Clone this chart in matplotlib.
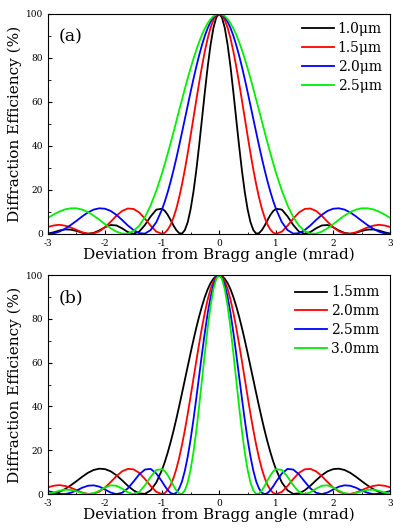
import matplotlib
matplotlib.use("Agg")
import matplotlib.pyplot as plt
from matplotlib.ticker import MultipleLocator

plt.rcParams["font.family"] = ["DejaVu Serif"]
plt.rcParams["axes.unicode_minus"] = False

# ------------------------- data -------------------------
angle = [-3.0, -2.9, -2.8, -2.7, -2.6, -2.5, -2.4, -2.3, -2.2, -2.1,
         -2.0, -1.9, -1.8, -1.7, -1.6, -1.5, -1.4, -1.3, -1.2, -1.1,
         -1.0, -0.95, -0.9, -0.85, -0.8, -0.75, -0.7, -0.65, -0.6, -0.55,
         -0.5, -0.45, -0.4, -0.35, -0.3, -0.25, -0.2, -0.15, -0.1, -0.05,
         0.0,
         0.05, 0.1, 0.15, 0.2, 0.25, 0.3, 0.35, 0.4, 0.45, 0.5,
         0.55, 0.6, 0.65, 0.7, 0.75, 0.8, 0.85, 0.9, 0.95, 1.0,
         1.1, 1.2, 1.3, 1.4, 1.5, 1.6, 1.7, 1.8, 1.9, 2.0,
         2.1, 2.2, 2.3, 2.4, 2.5, 2.6, 2.7, 2.8, 2.9, 3.0]

# panel (a)
eff_a_10 = [0.1, 0.7, 1.5, 2.0, 1.9, 1.3, 0.5, 0.0, 0.4, 1.5,
            3.0, 4.0, 3.8, 2.5, 0.8, 0.0, 1.0, 4.0, 7.9, 11.0,
            11.4, 10.4, 8.6, 6.3, 3.8, 1.7, 0.3, 0.1, 1.7, 5.3,
            11.1, 19.0, 28.8, 40.1, 52.2, 64.4, 75.9, 85.8, 93.5, 98.3,
            100.0,
            98.3, 93.5, 85.8, 75.9, 64.4, 52.2, 40.1, 28.8, 19.0, 11.1,
            5.3, 1.7, 0.1, 0.3, 1.7, 3.8, 6.3, 8.6, 10.4, 11.4,
            11.0, 7.9, 4.0, 1.0, 0.0, 0.8, 2.5, 3.8, 4.0, 3.0,
            1.5, 0.4, 0.0, 0.5, 1.3, 1.9, 2.0, 1.5, 0.7, 0.1]
eff_a_15 = [3.1, 3.8, 4.1, 3.7, 2.9, 1.8, 0.7, 0.1, 0.2, 1.1,
            3.0, 5.5, 8.2, 10.4, 11.5, 11.3, 9.7, 6.9, 3.7, 1.0,
            0.0, 0.5, 1.9, 4.1, 7.3, 11.4, 16.5, 22.5, 29.2, 36.6,
            44.5, 52.6, 60.7, 68.6, 76.1, 82.9, 88.8, 93.6, 97.1, 99.3,
            100.0,
            99.3, 97.1, 93.6, 88.8, 82.9, 76.1, 68.6, 60.7, 52.6, 44.5,
            36.6, 29.2, 22.5, 16.5, 11.4, 7.3, 4.1, 1.9, 0.5, 0.0,
            1.0, 3.7, 6.9, 9.7, 11.3, 11.5, 10.4, 8.2, 5.5, 3.0,
            1.1, 0.2, 0.1, 0.7, 1.8, 2.9, 3.7, 4.1, 3.8, 3.1]
eff_a_20 = [0.0, 0.2, 1.0, 2.3, 4.0, 5.9, 7.9, 9.7, 11.0, 11.6,
            11.4, 10.4, 8.6, 6.3, 3.8, 1.7, 0.3, 0.1, 1.7, 5.3,
            11.1, 14.8, 19.0, 23.7, 28.8, 34.3, 40.1, 46.1, 52.2, 58.3,
            64.4, 70.3, 75.9, 81.1, 85.8, 90.0, 93.5, 96.3, 98.3, 99.6,
            100.0,
            99.6, 98.3, 96.3, 93.5, 90.0, 85.8, 81.1, 75.9, 70.3, 64.4,
            58.3, 52.2, 46.1, 40.1, 34.3, 28.8, 23.7, 19.0, 14.8, 11.1,
            5.3, 1.7, 0.1, 0.3, 1.7, 3.8, 6.3, 8.6, 10.4, 11.4,
            11.6, 11.0, 9.7, 7.9, 5.9, 4.0, 2.3, 1.0, 0.2, 0.0]
eff_a_25 = [7.2, 8.8, 10.1, 11.1, 11.6, 11.6, 11.0, 9.9, 8.3, 6.4,
            4.4, 2.5, 1.0, 0.1, 0.1, 1.3, 3.7, 7.6, 12.9, 19.6,
            27.5, 31.9, 36.5, 41.2, 46.1, 51.1, 56.1, 61.0, 65.9, 70.7,
            75.2, 79.5, 83.5, 87.2, 90.5, 93.3, 95.7, 97.5, 98.9, 99.7,
            100.0,
            99.7, 98.9, 97.5, 95.7, 93.3, 90.5, 87.2, 83.5, 79.5, 75.2,
            70.7, 65.9, 61.0, 56.1, 51.1, 46.1, 41.2, 36.5, 31.9, 27.5,
            19.6, 12.9, 7.6, 3.7, 1.3, 0.1, 0.1, 1.0, 2.5, 4.4,
            6.4, 8.3, 9.9, 11.0, 11.6, 11.6, 11.1, 10.1, 8.8, 7.2]

# panel (b)
eff_b_15 = [0.0, 0.2, 1.0, 2.3, 4.0, 5.9, 7.9, 9.7, 11.0, 11.6,
            11.4, 10.4, 8.6, 6.3, 3.8, 1.7, 0.3, 0.1, 1.7, 5.3,
            11.1, 14.8, 19.0, 23.7, 28.8, 34.3, 40.1, 46.1, 52.2, 58.3,
            64.4, 70.3, 75.9, 81.1, 85.8, 90.0, 93.5, 96.3, 98.3, 99.6,
            100.0,
            99.6, 98.3, 96.3, 93.5, 90.0, 85.8, 81.1, 75.9, 70.3, 64.4,
            58.3, 52.2, 46.1, 40.1, 34.3, 28.8, 23.7, 19.0, 14.8, 11.1,
            5.3, 1.7, 0.1, 0.3, 1.7, 3.8, 6.3, 8.6, 10.4, 11.4,
            11.6, 11.0, 9.7, 7.9, 5.9, 4.0, 2.3, 1.0, 0.2, 0.0]
eff_b_20 = [3.1, 3.8, 4.1, 3.7, 2.9, 1.8, 0.7, 0.1, 0.2, 1.1,
            3.0, 5.5, 8.2, 10.4, 11.5, 11.3, 9.7, 6.9, 3.7, 1.0,
            0.0, 0.5, 1.9, 4.1, 7.3, 11.4, 16.5, 22.5, 29.2, 36.6,
            44.5, 52.6, 60.7, 68.6, 76.1, 82.9, 88.8, 93.6, 97.1, 99.3,
            100.0,
            99.3, 97.1, 93.6, 88.8, 82.9, 76.1, 68.6, 60.7, 52.6, 44.5,
            36.6, 29.2, 22.5, 16.5, 11.4, 7.3, 4.1, 1.9, 0.5, 0.0,
            1.0, 3.7, 6.9, 9.7, 11.3, 11.5, 10.4, 8.2, 5.5, 3.0,
            1.1, 0.2, 0.1, 0.7, 1.8, 2.9, 3.7, 4.1, 3.8, 3.1]
eff_b_25 = [1.4, 0.7, 0.1, 0.0, 0.6, 1.6, 2.9, 3.8, 4.0, 3.4,
            2.1, 0.7, 0.0, 0.6, 2.6, 5.7, 9.0, 11.2, 11.5, 9.4,
            5.7, 3.6, 1.8, 0.5, 0.0, 0.6, 2.5, 5.8, 10.7, 17.1,
            24.9, 33.9, 43.7, 53.9, 64.1, 73.8, 82.6, 89.9, 95.4, 98.8,
            100.0,
            98.8, 95.4, 89.9, 82.6, 73.8, 64.1, 53.9, 43.7, 33.9, 24.9,
            17.1, 10.7, 5.8, 2.5, 0.6, 0.0, 0.5, 1.8, 3.6, 5.7,
            9.4, 11.5, 11.2, 9.0, 5.7, 2.6, 0.6, 0.0, 0.7, 2.1,
            3.4, 4.0, 3.8, 2.9, 1.6, 0.6, 0.0, 0.1, 0.7, 1.4]
eff_b_30 = [0.1, 0.7, 1.5, 2.0, 1.9, 1.3, 0.5, 0.0, 0.4, 1.5,
            3.0, 4.0, 3.8, 2.5, 0.8, 0.0, 1.0, 4.0, 7.9, 11.0,
            11.4, 10.4, 8.6, 6.3, 3.8, 1.7, 0.3, 0.1, 1.7, 5.3,
            11.1, 19.0, 28.8, 40.1, 52.2, 64.4, 75.9, 85.8, 93.5, 98.3,
            100.0,
            98.3, 93.5, 85.8, 75.9, 64.4, 52.2, 40.1, 28.8, 19.0, 11.1,
            5.3, 1.7, 0.1, 0.3, 1.7, 3.8, 6.3, 8.6, 10.4, 11.4,
            11.0, 7.9, 4.0, 1.0, 0.0, 0.8, 2.5, 3.8, 4.0, 3.0,
            1.5, 0.4, 0.0, 0.5, 1.3, 1.9, 2.0, 1.5, 0.7, 0.1]

labels_a = ["1.0\u03bcm", "1.5\u03bcm", "2.0\u03bcm", "2.5\u03bcm"]
labels_b = ["1.5mm", "2.0mm", "2.5mm", "3.0mm"]
colors = ["black", "#ff0000", "#0000ff", "#00ee00"]

# ------------------------------- plot ---------------------------------------
fig = plt.figure(figsize=(3.93, 5.29), dpi=100)
ax_a = fig.add_axes([0.122, 0.558, 0.871, 0.416])
ax_b = fig.add_axes([0.122, 0.066, 0.871, 0.414])

panels = [
    (ax_a, [eff_a_10, eff_a_15, eff_a_20, eff_a_25], labels_a, "(a)", 0.2),
    (ax_b, [eff_b_15, eff_b_20, eff_b_25, eff_b_30], labels_b, "(b)", 0.35),
]

for ax, series, labels, tag, pad in panels:
    for eff, lab, col in zip(series, labels, colors):
        ax.plot(angle, eff, color=col, lw=1.3, label=lab)
    ax.set_xlim(-3, 3)
    ax.set_ylim(0, 100)
    ax.xaxis.set_major_locator(MultipleLocator(1))
    ax.xaxis.set_minor_locator(MultipleLocator(0.5))
    ax.yaxis.set_major_locator(MultipleLocator(20))
    ax.yaxis.set_minor_locator(MultipleLocator(10))
    ax.tick_params(which="both", direction="in", top=False, right=False,
                   labelsize=6.5)
    ax.tick_params(which="major", length=3)
    ax.tick_params(which="minor", length=1.8)
    for sp in ax.spines.values():
        sp.set_linewidth(0.8)
    ax.set_xlabel("Deviation from Bragg angle (mrad)", fontsize=11, labelpad=0)
    ax.set_ylabel("Diffraction Efficiency (%)", fontsize=11, labelpad=3)
    ax.text(0.03, 0.875, tag, transform=ax.transAxes, fontsize=12.5)
    ax.legend(loc="upper right", frameon=False, fontsize=10, handlelength=2.3,
              handletextpad=0.3, labelspacing=0.35, borderaxespad=pad)

fig.savefig("out.png", dpi=100)
